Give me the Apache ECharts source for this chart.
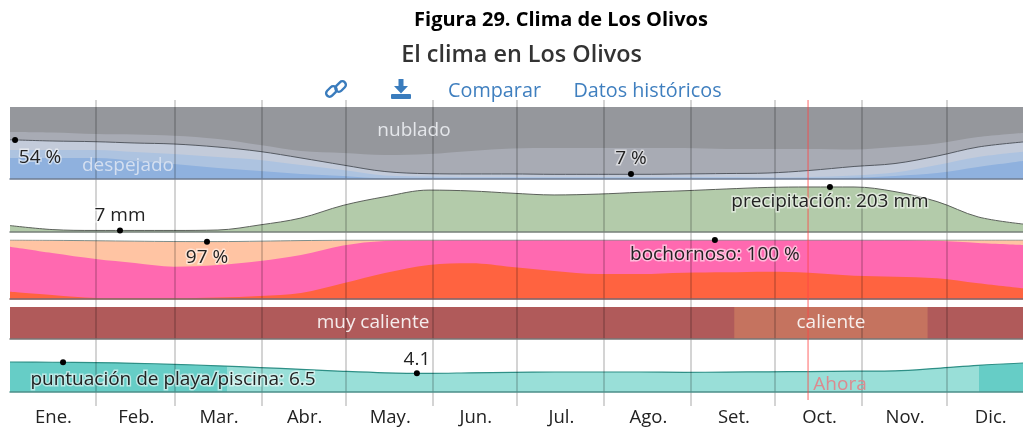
<!DOCTYPE html>
<html>
<head>
<meta charset="utf-8">
<style>
  html, body { margin: 0; padding: 0; background: #fff; }
  #chart { width: 1023px; height: 428px; }
</style>
<script src="https://cdn.jsdelivr.net/npm/echarts@6/dist/echarts.min.js"></script>
</head>
<body>
<div id="chart"></div>
<script>
// dias del año donde se leyeron los valores (diciembre queda cortado a la derecha)
const days = [0, 15, 30.6, 44.5, 58.4, 74.1, 89.1, 103.7, 118.7, 133.6, 149.3, 164.3, 178.9, 193.9, 209.6, 224.5, 240.2, 255.2, 270.1, 284.7, 300.8, 315.4, 330.4, 345, 361];
const lastDay = 361;
const monthStarts = [30.7, 58.8, 89.8, 119.7, 150.7, 180.7, 211.7, 242.7, 272.7, 303.7, 333.7];
const monthMids = [15.5, 45, 74.5, 105, 135.5, 166, 196.5, 227.5, 258, 288.5, 319, 349.5];
const monthNames = ["Ene.", "Feb.", "Mar.", "Abr.", "May.", "Jun.", "Jul.", "Ago.", "Set.", "Oct.", "Nov.", "Dic."];
const nowDay = 284.4;

// nubes, porcentaje acumulado
const overcastTop = [100, 100, 100, 100, 100, 100, 100, 100, 100, 100, 100, 100, 100, 100, 100, 100, 100, 100, 100, 100, 100, 100, 100, 100, 100];
const mostlyCloudyTop = [65.3, 64.6, 62.5, 61.8, 60.1, 55.6, 47.2, 38.9, 36.1, 33.3, 34.7, 38.9, 42.4, 43, 43, 43, 43, 41.7, 41.7, 41.7, 41, 44.4, 49.3, 58.3, 63.9];
const partlyCloudyTop = [54.5, 52.8, 51.8, 50, 48.6, 44.4, 38.2, 29.2, 19.4, 10.4, 7.4, 7, 7, 6.5, 6.5, 6.5, 7, 7.6, 8.3, 11.8, 17.4, 21.5, 31.9, 44.4, 51.4];
const mostlyClearTop = [40.3, 40.3, 40.3, 37.5, 34.7, 30.6, 26.4, 19.4, 12.5, 4.9, 3.5, 2.8, 2.8, 2.8, 2.8, 2.8, 2.8, 2.8, 2.1, 2.8, 4.9, 9, 19.4, 30.6, 37.9];
const clearTop = [29.2, 29.2, 29.2, 25, 20.8, 15.3, 11.1, 6.9, 4.2, 0.7, 0.3, 0.2, 0.2, 0.2, 0.2, 0.2, 0.2, 0.2, 0.2, 0.7, 1.8, 4.2, 8.3, 16.7, 25];

// precipitacion, mm
const rainMm = [29, 11, 7, 7, 7, 9, 32, 63, 120, 159, 189, 185, 175, 167, 171, 179, 186, 194, 201, 203, 203, 182, 137, 68, 36];

// bochorno, porcentaje acumulado
const comfortableTop = [100, 99.5, 98.7, 98, 97.4, 97.3, 98, 99, 99.7, 99.9, 100, 100, 100, 100, 100, 100, 100, 100, 100, 100, 100, 100, 100, 100, 100];
const humidTop = [88.5, 77.8, 67.5, 60.7, 54.4, 57.3, 64.1, 74.4, 90.6, 98.3, 99.5, 100, 100, 100, 100, 100, 100, 100, 100, 100, 100, 99.8, 98.6, 94.9, 91.5];
const oppressiveTop = [11.6, 6, 0.9, 0.5, 0.5, 1.7, 4.3, 9.4, 26, 43.6, 57.3, 60.2, 53.8, 47, 41.9, 41.9, 44.1, 44.8, 45.8, 44.1, 39, 37.3, 34.5, 26, 17.4];

// temperatura, tramo "caliente" en dias
const hotStart = 258.1;
const hotEnd = 327;

// puntuacion playa/piscina
const beachScore = [6.55, 6.5, 6.42, 6.27, 6.05, 5.72, 5.33, 4.96, 4.52, 4.19, 4.08, 4.19, 4.3, 4.37, 4.37, 4.37, 4.3, 4.34, 4.41, 4.45, 4.56, 4.63, 5.17, 5.83, 6.33];
const beachBestEnd = 77.2;
const beachBestStart = 345.3;

const FONT = '"Open Sans", "Noto Sans", sans-serif';

function zip(values) {
  return days.map((d, i) => [d, values[i]]);
}

function areaSeries(gridIndex, values, color, lineColor) {
  return {
    type: "line",
    xAxisIndex: gridIndex,
    yAxisIndex: gridIndex,
    data: zip(values),
    smooth: 0.35,
    symbol: "none",
    silent: true,
    animation: false,
    lineStyle: lineColor ? { color: lineColor, width: 1 } : { width: 0 },
    areaStyle: { color: color, opacity: 1 }
  };
}

// punto negro con su etiqueta
function dotSeries(gridIndex, day, value, text, offset) {
  return {
    type: "scatter",
    xAxisIndex: gridIndex,
    yAxisIndex: gridIndex,
    data: [[day, value]],
    symbolSize: 6,
    clip: false,
    z: 8,
    silent: true,
    animation: false,
    itemStyle: { color: "#000", opacity: 1 },
    label: {
      show: true,
      position: "inside",
      offset: offset,
      formatter: text,
      fontFamily: FONT,
      fontSize: 19,
      color: "#222",
      textBorderColor: "rgba(255,255,255,0.55)",
      textBorderWidth: 3
    }
  };
}

function bandSeries(start, end, color) {
  return {
    type: "line",
    xAxisIndex: 3,
    yAxisIndex: 3,
    data: [[start, 1], [end, 1]],
    symbol: "none",
    silent: true,
    animation: false,
    lineStyle: { width: 0 },
    areaStyle: { color: color, opacity: 1 }
  };
}

function panelText(x, y, text, color, size, weight) {
  return {
    type: "text",
    x: x,
    y: y,
    z: 20,
    silent: true,
    style: {
      text: text,
      x: 0,
      y: 0,
      align: "center",
      verticalAlign: "middle",
      fill: color,
      font: (weight || "normal") + " " + size + "px " + FONT
    }
  };
}

const panels = [
  { top: 107, height: 72, max: 100, line: "#6f7c91" },
  { top: 180, height: 52, max: 234.5, line: "#77807a" },
  { top: 240, height: 58.5, max: 100, line: "#7b5050" },
  { top: 307, height: 32, max: 1, line: "#777" },
  { top: 350, height: 42, max: 9.17, line: "#4c8f89" },
  { top: 100, height: 306, max: 306, line: null }
];

const grids = panels.map(p => ({ left: 10, right: 0, top: p.top, height: p.height }));
const xAxes = panels.map((p, i) => {
  const axis = {
    type: "value",
    gridIndex: i,
    min: 0,
    max: lastDay,
    splitLine: { show: false },
    axisTick: { show: false },
    axisLabel: { show: false },
    axisLine: p.line ? { show: true, onZero: false, lineStyle: { color: p.line, width: 1.5 } } : { show: false },
    z: 6
  };
  if (i === 5) {
    axis.axisLabel = {
      show: true,
      customValues: monthMids,
      formatter: v => monthNames[monthMids.indexOf(v)],
      fontFamily: FONT,
      fontSize: 18.5,
      color: "#222",
      margin: 2
    };
  }
  return axis;
});
const yAxes = panels.map((p, i) => ({
  type: "value",
  gridIndex: i,
  min: 0,
  max: p.max,
  show: false
}));

const series = [
  areaSeries(0, overcastTop, "#95979c"),
  areaSeries(0, mostlyCloudyTop, "#a8abb4"),
  areaSeries(0, partlyCloudyTop, "#c3cbda", "#555a62"),
  areaSeries(0, mostlyClearTop, "#adc3e0"),
  areaSeries(0, clearTop, "#8fb1de"),

  areaSeries(1, rainMm, "#b3cbaa", "#5c615b"),

  areaSeries(2, comfortableTop, "#ffc4a3", "#7f8f8c"),
  areaSeries(2, humidTop, "#ff69b0"),
  areaSeries(2, oppressiveTop, "#ff6340"),

  bandSeries(0, lastDay, "#b05a5a"),
  bandSeries(hotStart, hotEnd, "#c5735f"),

  // el relleno cambia de color segun el tramo, ver visualMap
  {
    type: "line",
    xAxisIndex: 4,
    yAxisIndex: 4,
    data: zip(beachScore),
    smooth: 0.35,
    symbol: "none",
    silent: true,
    animation: false,
    lineStyle: { width: 0 },
    areaStyle: { opacity: 1 }
  },
  {
    type: "line",
    xAxisIndex: 4,
    yAxisIndex: 4,
    data: zip(beachScore),
    smooth: 0.35,
    symbol: "none",
    silent: true,
    animation: false,
    lineStyle: { color: "#2e8f86", width: 1.2 }
  },

  // lineas de los meses
  {
    type: "line",
    xAxisIndex: 5,
    yAxisIndex: 5,
    data: [],
    z: 5,
    silent: true,
    animation: false,
    markLine: {
      silent: true,
      animation: false,
      symbol: "none",
      label: { show: false },
      lineStyle: { color: "rgba(0,0,0,0.17)", type: "solid", width: 2 },
      data: monthStarts.map(d => ({ xAxis: d }))
    }
  },
  // hoy
  {
    type: "line",
    xAxisIndex: 5,
    yAxisIndex: 5,
    data: [[nowDay, 6], [nowDay, 306]],
    symbol: "none",
    z: 6,
    silent: true,
    animation: false,
    lineStyle: { color: "rgba(255,70,70,0.55)", width: 1.5 }
  },

  dotSeries(0, 1.8, 54, "54 %", [25, 17]),
  dotSeries(0, 221.3, 7, "7 %", [0, -15]),
  dotSeries(1, 39.2, 7, "7 mm", [0, -15]),
  dotSeries(1, 292.2, 203, "precipitación: 203 mm", [0, 15]),
  dotSeries(2, 70.2, 97, "97 %", [0, 16]),
  dotSeries(2, 251.2, 100, "bochornoso: 100 %", [0, 15]),
  dotSeries(4, 18.9, 6.5, "puntuación de playa/piscina: 6.5", [110, 17]),
  dotSeries(4, 145, 4.1, "4.1", [0, -14])
];

const linkIcon = {
  type: "group",
  x: 336,
  y: 89,
  rotation: Math.PI / 4,
  z: 20,
  silent: true,
  children: [
    { type: "rect", shape: { x: -11, y: -5, width: 12, height: 7, r: 3.5 }, style: { fill: "none", stroke: "#3a7cbd", lineWidth: 2.4 } },
    { type: "rect", shape: { x: -1, y: -2, width: 12, height: 7, r: 3.5 }, style: { fill: "none", stroke: "#3a7cbd", lineWidth: 2.4 } }
  ]
};
const downloadIcon = {
  type: "group",
  x: 401,
  y: 89,
  z: 20,
  silent: true,
  children: [
    { type: "polygon", shape: { points: [[-2.5, -10], [2.5, -10], [2.5, -3], [7, -3], [0, 4.5], [-7, -3], [-2.5, -3]] }, style: { fill: "#3a7cbd" } },
    { type: "rect", shape: { x: -10, y: 5, width: 20, height: 5, r: 1 }, style: { fill: "#3a7cbd" } }
  ]
};

const option = {
  animation: false,
  textStyle: { fontFamily: FONT },
  grid: grids,
  xAxis: xAxes,
  yAxis: yAxes,
  visualMap: {
    show: false,
    type: "piecewise",
    seriesIndex: 11,
    dimension: 0,
    pieces: [
      { lt: beachBestEnd, color: "#66cdc6" },
      { gte: beachBestEnd, lt: beachBestStart, color: "#99dfd8" },
      { gte: beachBestStart, color: "#66cdc6" }
    ]
  },
  series: series,
  graphic: [
    panelText(561, 20, "Figura 29. Clima de Los Olivos", "#000", 20, "bold"),
    panelText(521.5, 55, "El clima en Los Olivos", "#333", 23.4, "600"),
    panelText(494.5, 91, "Comparar", "#3f7fbf", 19.8),
    panelText(647.5, 91, "Datos históricos", "#3f7fbf", 19.8),
    linkIcon,
    downloadIcon,
    panelText(414, 131, "nublado", "#e4e6ea", 19),
    panelText(128, 166, "despejado", "#d4dff0", 19),
    panelText(373, 323, "muy caliente", "#f5ecec", 19),
    panelText(831, 323, "caliente", "#f7efec", 19),
    panelText(840, 385, "Ahora", "#dc8a8f", 19)
  ]
};

const myChart = echarts.init(document.getElementById("chart"), null, { renderer: "canvas" });
myChart.setOption(option);
</script>
</body>
</html>
